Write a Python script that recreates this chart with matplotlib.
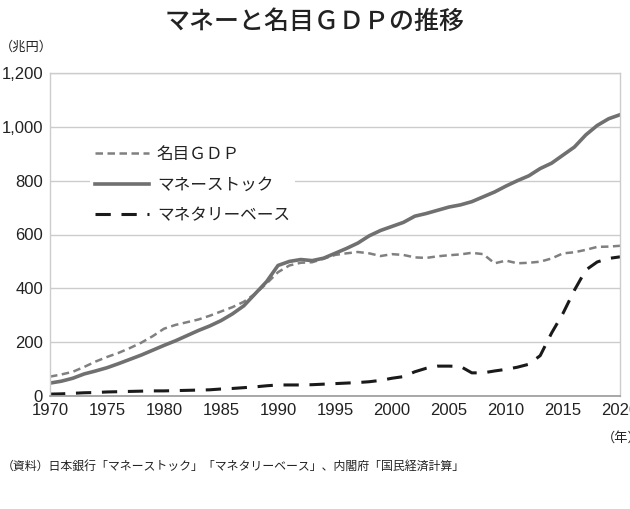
import numpy as np
import matplotlib
matplotlib.use("Agg")
import matplotlib.pyplot as plt

plt.rcParams['font.family'] = ['Noto Sans CJK JP', 'DejaVu Sans']

years = list(range(1970, 2021))

money_stock = [48, 55, 66, 82, 93, 105, 120, 136, 152, 170,
               188, 205, 224, 243, 260, 280, 305, 335, 380, 425,
               485, 500, 507, 503, 512, 530, 548, 568, 595, 615,
               630, 645, 668, 678, 690, 702, 710, 722, 740, 758,
               780, 800, 818, 845, 865, 895, 925, 970, 1005, 1030,
               1045]

gdp = [72, 80, 90, 108, 128, 145, 160, 178, 198, 222,
       250, 264, 274, 284, 298, 314, 330, 350, 380, 418,
       460, 485, 495, 497, 510, 524, 530, 535, 530, 520,
       527, 524, 515, 513, 519, 523, 526, 532, 527, 493,
       503, 493, 495, 499, 511, 530, 534, 543, 554, 555,
       558]

monetary_base = [7, 8, 10, 12, 13, 15, 16, 17, 18, 19,
                 19, 20, 21, 22, 23, 26, 28, 31, 34, 38,
                 41, 41, 41, 42, 44, 46, 48, 50, 53, 58,
                 66, 72, 90, 103, 111, 111, 110, 86, 86, 93,
                 99, 107, 118, 150, 234, 307, 393, 468, 498, 511,
                 517]

x_ticks = list(range(1970, 2021, 5))
y_ticks = [0, 200, 400, 600, 800, 1000, 1200]
y_labels = ['0', '200', '400', '600', '800', '1,000', '1,200']

title = 'マネーと名目ＧＤＰの推移'
labels = ['名目ＧＤＰ', 'マネーストック', 'マネタリーベース']
source = '（資料）日本銀行「マネーストック」「マネタリーベース」、内閣府「国民経済計算」'

fig = plt.figure(figsize=(6.3, 5.09), dpi=100)
ax = fig.add_axes([50/630, 1-396/509, 570/630, 323/509])

num_font = ['Liberation Sans', 'DejaVu Sans']

l1, = ax.plot(years, gdp, color='#808080', lw=1.8, dashes=(3, 1.8), label=labels[0])
l2, = ax.plot(years, money_stock, color='#707070', lw=2.6, label=labels[1])
l3, = ax.plot(years, monetary_base, color='#1a1a1a', lw=2.2, dashes=(5, 3.5), label=labels[2])

ax.set_xlim(1970, 2020)
ax.set_ylim(0, 1200)
ax.set_xticks(x_ticks)
ax.set_yticks(y_ticks)
ax.set_yticklabels(y_labels)
ax.tick_params(length=0, labelsize=12, pad=5)
for t in ax.get_xticklabels() + ax.get_yticklabels():
    t.set_family(num_font)
    t.set_color('#222222')
ax.grid(axis='y', color='#cccccc', lw=1)
ax.set_axisbelow(True)
for s in ['top', 'right', 'left']:
    ax.spines[s].set_color('#cccccc')
    ax.spines[s].set_linewidth(1)
ax.spines['bottom'].set_color('#999999')
ax.spines['bottom'].set_linewidth(1.2)

leg = ax.legend(handles=[l1, l2, l3], loc='upper left', bbox_to_anchor=(0.056, 0.815),
                frameon=True, facecolor='white', edgecolor='none', framealpha=1,
                fontsize=12, handlelength=3.2, labelspacing=0.8, handletextpad=0.5,
                borderpad=0.3, fancybox=False)
for t in leg.get_texts():
    t.set_color('#222222')

fig.text(0.5, 1-22/509, title, ha='center', va='center', fontsize=18,
         fontweight='medium', color='#222222')
fig.text(0, 1-47/509, '（兆円）', ha='left', va='center', fontsize=9.5, color='#222222')
fig.text(602/630, 1-438/509, '（年）', ha='left', va='center', fontsize=9.5, color='#222222')
fig.text(2/630, 1-466/509, source, ha='left', va='center', fontsize=8.6, color='#222222')

fig.savefig('out.png', dpi=100)
